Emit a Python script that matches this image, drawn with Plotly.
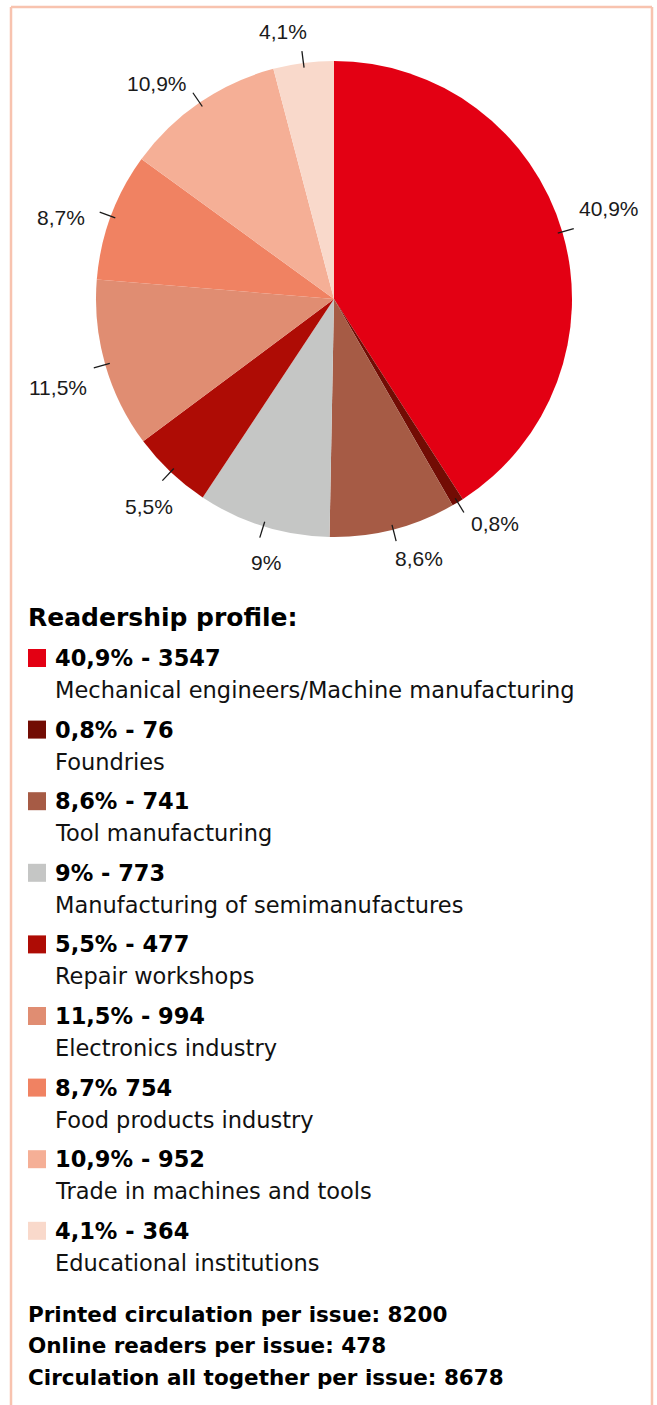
import math
import plotly.graph_objects as go

W, H = 657, 1405

# ---- data ----
categories = [
    "Mechanical engineers/Machine manufacturing",
    "Foundries",
    "Tool manufacturing",
    "Manufacturing of semimanufactures",
    "Repair workshops",
    "Electronics industry",
    "Food products industry",
    "Trade in machines and tools",
    "Educational institutions",
]
percent_values = [40.9, 0.8, 8.6, 9.0, 5.5, 11.5, 8.7, 10.9, 4.1]
percent_labels = ["40,9%", "0,8%", "8,6%", "9%", "5,5%", "11,5%", "8,7%", "10,9%", "4,1%"]
reader_counts = [3547, 76, 741, 773, 477, 994, 754, 952, 364]
legend_heads = ["40,9% - 3547", "0,8% - 76", "8,6% - 741", "9% - 773", "5,5% - 477",
                "11,5% - 994", "8,7% 754", "10,9% - 952", "4,1% - 364"]
colors = ["#E30013", "#720C04", "#A65B45", "#C5C6C5", "#AE0C05",
          "#E08D72", "#F08262", "#F5AF96", "#F9D9CB"]
footer_lines = [
    "Printed circulation per issue: 8200",
    "Online readers per issue: 478",
    "Circulation all together per issue: 8678",
]
title_text = "Readership profile:"

# ---- layout geometry (pixels) ----
cx, cy, R = 334, 299, 238


def px_x(x):
    return x / W


def px_y(y):
    return 1 - y / H


fig = go.Figure()
fig.add_trace(go.Pie(
    values=percent_values,
    labels=categories,
    marker=dict(colors=colors, line=dict(width=0)),
    sort=False,
    direction="clockwise",
    rotation=0,
    textinfo="none",
    hoverinfo="label+percent",
    showlegend=False,
    domain=dict(x=[px_x(cx - R), px_x(cx + R)], y=[px_y(cy + R), px_y(cy - R)]),
))

shapes = []
annotations = []

# leader lines and outside labels, derived from values
char_w = {",": 5.8, "%": 18.7}
total = sum(percent_values)
cum = 0.0
label_shift = math.radians(-3)
for v, lab in zip(percent_values, percent_labels):
    mid = (cum + v / 2) / total * 2 * math.pi
    cum += v
    s, c = math.sin(mid), math.cos(mid)
    r1, r2 = 0.98 * R, 1.05 * R
    shapes.append(dict(type="line", xref="paper", yref="paper",
                       x0=px_x(cx + r1 * s), y0=px_y(cy - r1 * c),
                       x1=px_x(cx + r2 * s), y1=px_y(cy - r2 * c),
                       line=dict(color="#1a1a1a", width=1.3)))
    sl, cl = math.sin(mid + label_shift), math.cos(mid + label_shift)
    w = sum(char_w.get(ch, 11.7) for ch in lab)
    ra = 1.10 * R
    tx = cx + ra * sl + sl * w / 2
    ty = cy - ra * cl - cl * 10
    annotations.append(dict(x=px_x(tx), y=px_y(ty), xref="paper", yref="paper",
                            text=lab, showarrow=False, xanchor="center", yanchor="middle",
                            font=dict(family="Liberation Sans", size=21, color="#1a1a1a")))

# legend title
annotations.append(dict(x=px_x(26), y=px_y(617), xref="paper", yref="paper",
                        text=title_text, showarrow=False, xanchor="left", yanchor="middle",
                        font=dict(family="DejaVu Sans", size=25, color="#000000", weight="bold")))

# legend rows
row0, step = 658, 71.6
for i, (head, cat, col) in enumerate(zip(legend_heads, categories, colors)):
    y = row0 + i * step
    shapes.append(dict(type="rect", xref="paper", yref="paper",
                       x0=px_x(28), x1=px_x(46), y0=px_y(y - 9), y1=px_y(y + 9),
                       fillcolor=col, line=dict(width=0)))
    annotations.append(dict(x=px_x(53), y=px_y(y), xref="paper", yref="paper",
                            text=head, showarrow=False, xanchor="left", yanchor="middle",
                            font=dict(family="DejaVu Sans", size=22.5, color="#000000", weight="bold")))
    annotations.append(dict(x=px_x(53), y=px_y(y + 32), xref="paper", yref="paper",
                            text=cat, showarrow=False, xanchor="left", yanchor="middle",
                            font=dict(family="DejaVu Sans", size=22.5, color="#111111")))

# footer
for j, line in enumerate(footer_lines):
    annotations.append(dict(x=px_x(26), y=px_y(1314 + j * 31.5), xref="paper", yref="paper",
                            text=line, showarrow=False, xanchor="left", yanchor="middle",
                            font=dict(family="DejaVu Sans", size=21.5, color="#000000", weight="bold")))

# frame border
bcol = "#F8C3AF"
shapes += [
    dict(type="line", xref="paper", yref="paper", x0=px_x(11), x1=px_x(11), y0=px_y(7), y1=-0.01,
         line=dict(color=bcol, width=2.5)),
    dict(type="line", xref="paper", yref="paper", x0=px_x(652), x1=px_x(652), y0=px_y(7), y1=-0.01,
         line=dict(color=bcol, width=2.5)),
    dict(type="line", xref="paper", yref="paper", x0=px_x(11), x1=px_x(652), y0=px_y(7), y1=px_y(7),
         line=dict(color=bcol, width=2.5)),
]

fig.update_layout(
    width=W, height=H,
    margin=dict(l=0, r=0, t=0, b=0),
    paper_bgcolor="white", plot_bgcolor="white",
    shapes=shapes, annotations=annotations,
    showlegend=False,
)

fig.write_html("out.html")
